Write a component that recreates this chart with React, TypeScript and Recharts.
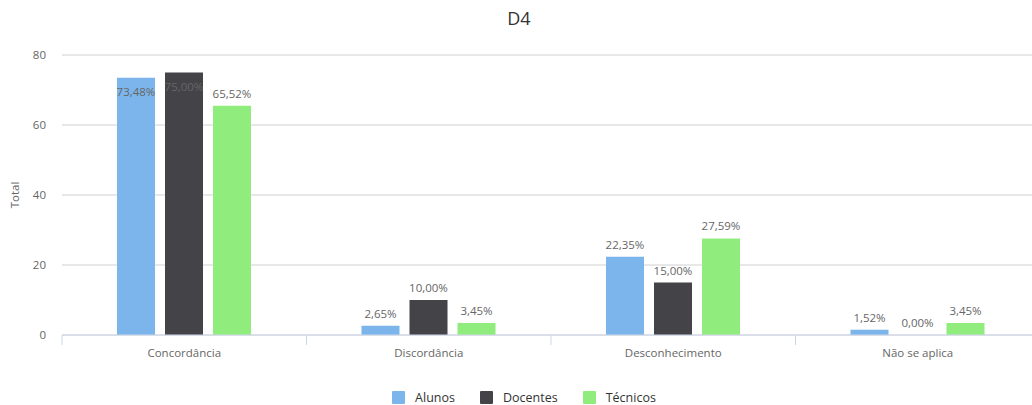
import { BarChart, Bar, XAxis, YAxis, CartesianGrid, LabelList } from 'recharts'

const categories = ['Concordância', 'Discordância', 'Desconhecimento', 'Não se aplica']
const alunos = [73.48, 2.65, 22.35, 1.52]
const docentes = [75.0, 10.0, 15.0, 0.0]
const tecnicos = [65.52, 3.45, 27.59, 3.45]
const yTicks = [0, 20, 40, 60, 80]

const series = [
  { key: 'alunos', name: 'Alunos', color: '#7cb5ec', values: alunos },
  { key: 'docentes', name: 'Docentes', color: '#434348', values: docentes },
  { key: 'tecnicos', name: 'Técnicos', color: '#90ed7d', values: tecnicos },
]

const data = categories.map((c, i) => ({
  name: c,
  alunos: alunos[i],
  docentes: docentes[i],
  tecnicos: tecnicos[i],
}))

const W = 1050
const H = 405
const M = { top: 55, right: 10, left: 0, bottom: 40 }
const Y_W = 62
const X_H = 30
const BAND = (W - M.left - M.right - Y_W) / categories.length
const FONT = '"Open Sans", "DejaVu Sans", sans-serif'

const fmt = (v: number) => `${v.toFixed(2).replace('.', ',')}%`

// rótulo acima da barra; nas barras muito altas o Highcharts joga pra dentro
function DataLabel(props: any) {
  const { x, y, width, value } = props
  const v = Number(value)
  const inside = v >= 70
  return (
    <text x={x + width / 2} y={inside ? y + 18 : y - 8} textAnchor="middle" fontSize={11.5} fill="#666" style={{ fontFamily: FONT }}>
      {fmt(v)}
    </text>
  )
}

function CatTick(props: any) {
  const { x, y, payload } = props
  const left = x - BAND / 2
  return (
    <g>
      <line x1={left} x2={left} y1={y} y2={y + 10} stroke="#ccd6eb" />
      <text x={x} y={y + 22} textAnchor="middle" fontSize={11.5} fill="#666" style={{ fontFamily: FONT }}>
        {payload.value}
      </text>
    </g>
  )
}

export default function App() {
  return (
    <div style={{ position: 'fixed', left: 0, top: 0, width: 1032, height: 405, overflow: 'hidden', background: '#fff', fontFamily: FONT }}>
      <div style={{ position: 'absolute', top: 6, left: 0, width: 1038, textAlign: 'center', fontSize: 18, color: '#333' }}>D4</div>
      <BarChart width={W} height={H} data={data} margin={M} barGap={10} barSize={38}>
        <CartesianGrid vertical={false} stroke="#d0d0d0" />
        <XAxis dataKey="name" height={X_H} tickSize={0} tickMargin={0} axisLine={{ stroke: '#ccd6eb' }} tickLine={false} tick={<CatTick />} interval={0} />
        <YAxis
          width={Y_W}
          domain={[0, 80]}
          ticks={yTicks}
          axisLine={false}
          tickLine={false}
          tickSize={0}
          tickMargin={16}
          tick={{ fontSize: 11.5, fill: '#666' }}
          label={({ viewBox }: any) => (
            <text x={16} y={(viewBox?.y ?? 55) + (viewBox?.height ?? 280) / 2} transform={`rotate(-90 16 ${(viewBox?.y ?? 55) + (viewBox?.height ?? 280) / 2})`} textAnchor="middle" dominantBaseline="middle" fontSize={11.5} fill="#666">
              Total
            </text>
          )}
        />
        {series.map(s => (
          <Bar key={s.key} dataKey={s.key} name={s.name} fill={s.color} minPointSize={0.01} isAnimationActive={false}>
            <LabelList dataKey={s.key} content={<DataLabel />} />
          </Bar>
        ))}
      </BarChart>
      {/* legenda */}
      <div style={{ position: 'absolute', top: 389, left: 0, width: 1048, display: 'flex', justifyContent: 'center', gap: 25, fontSize: 12.5, color: '#333' }}>
        {series.map(s => (
          <div key={s.key} style={{ display: 'flex', alignItems: 'center', gap: 10 }}>
            <span style={{ width: 13, height: 13, background: s.color, borderRadius: 1, display: 'inline-block' }} />
            <span>{s.name}</span>
          </div>
        ))}
      </div>
    </div>
  )
}
